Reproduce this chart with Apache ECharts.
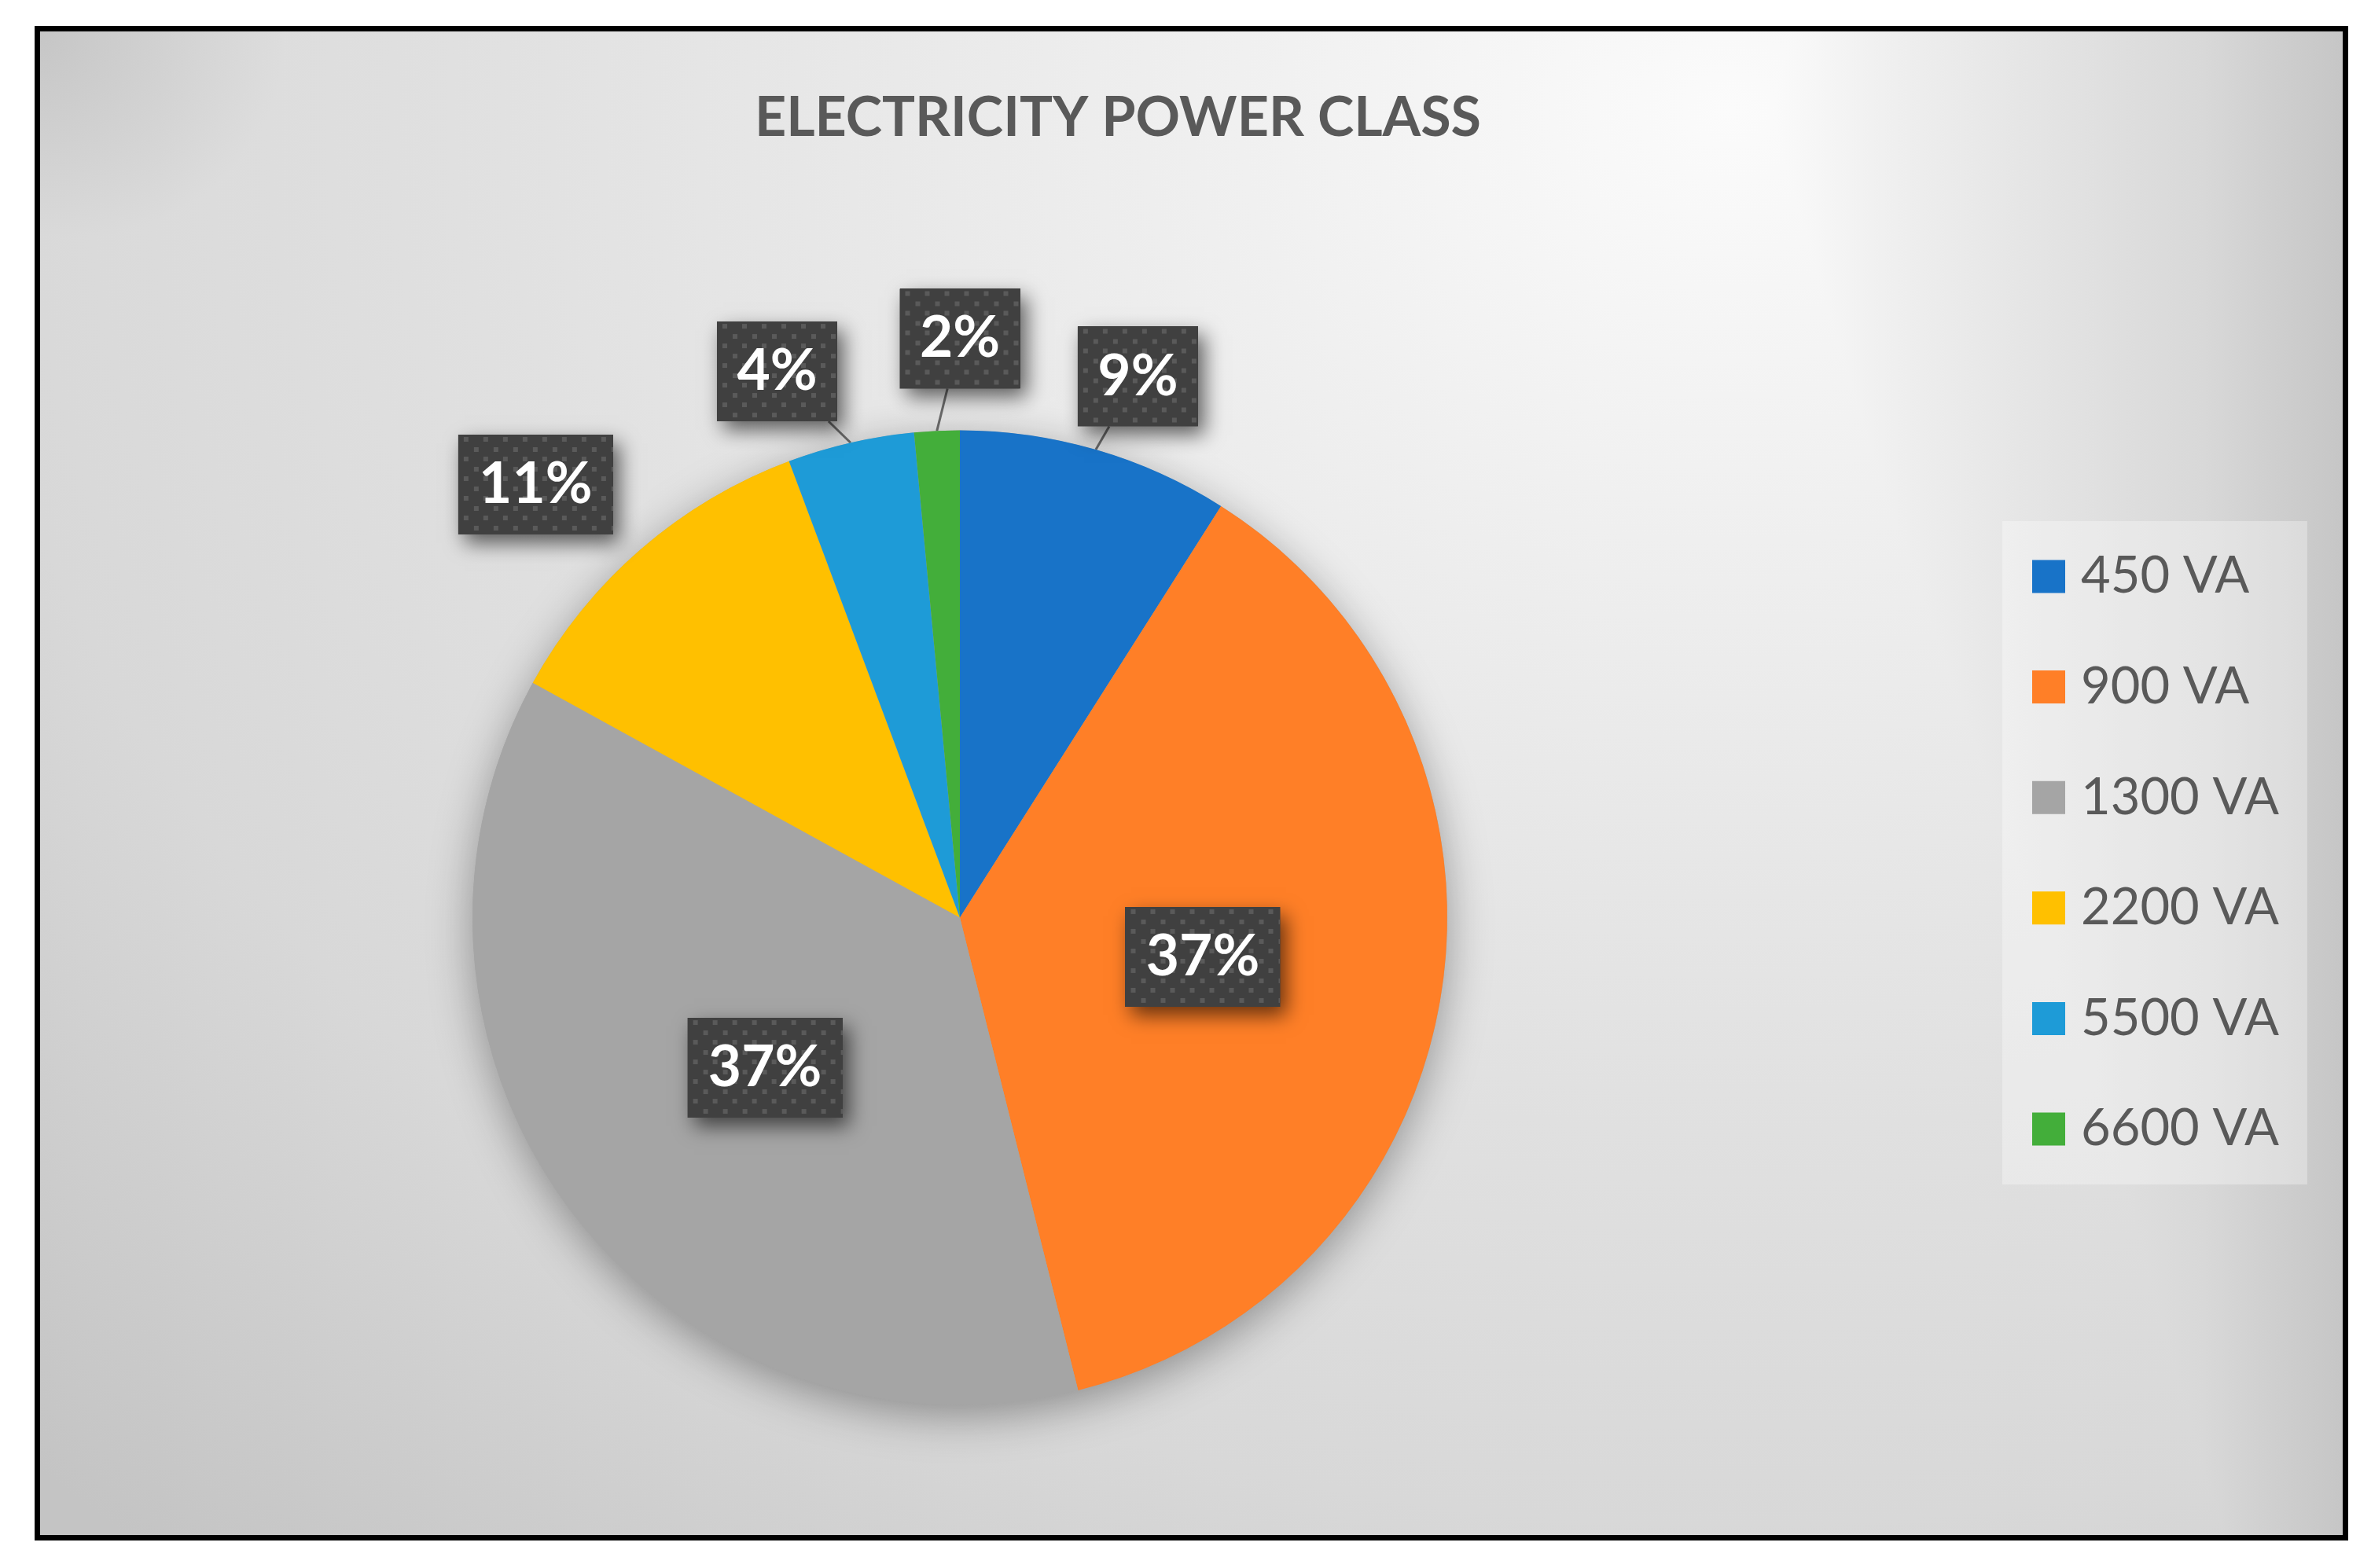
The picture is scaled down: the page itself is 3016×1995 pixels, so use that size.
<!DOCTYPE html>
<html>
<head>
<meta charset="utf-8">
<title>Electricity Power Class</title>
<script src="https://cdn.jsdelivr.net/npm/echarts@6/dist/echarts.min.js"></script>
<style>
    html, body { margin: 0; padding: 0; background: #fff; }
    #main {
        position: absolute; left: 44px; top: 33px;
        width: 2929px; height: 1913px;
        border: 7px solid #000;
        background-image:
            radial-gradient(circle 700px at 0 0, #c6c6c6 0%, #e0e0e0 50%, #ffffff 100%),
            linear-gradient(to right, #ffffff 73%, #f0f0f0 80%, #e4e4e4 87%, #d8d8d8 94%, #c6c6c6 100%),
            radial-gradient(ellipse 2500px 2000px at 2150px 100px, #fbfbfb 0%, #f0f0f0 25%, #e0e0e0 65%, #d8d8d8 90%, #c4c4c4 122%);
        background-blend-mode: darken;
    }
</style>
</head>
<body>
<div id="main"></div>
<script>
var categories = ['450 VA', '900 VA', '1300 VA', '2200 VA', '5500 VA', '6600 VA'];
var shares = [9.0, 37.1, 36.9, 11.3, 4.2, 1.5];
var sliceColors = ['#1873c8', '#ff7f27', '#a5a5a5', '#ffc000', '#1e9bd7', '#43ae3a'];

var pieCenter = [1170, 1127.5];
var pieRadius = 620;

// outside labels: compass angle (deg), distance in radii, leader line shown?
var outsideSpots = {
    '450 VA': [18.2, 1.169, true],
    '2200 VA': [315.6, 1.244, false],
    '5500 VA': [341.5, 1.182, true],
    '6600 VA': [0, 1.188, true]
};

var total = shares.reduce(function (a, b) { return a + b; }, 0);
var midAngles = [];
var acc = 0;
shares.forEach(function (v) {
    midAngles.push((acc + v / 2) / total * 360);
    acc += v;
});

// dark label box with the little dotted texture
function dotBox(w, h) {
    var c = document.createElement('canvas');
    c.width = w;
    c.height = h;
    var ctx = c.getContext('2d');
    ctx.fillStyle = '#404040';
    ctx.fillRect(0, 0, w, h);
    ctx.fillStyle = '#5a5a5a';
    for (var row = 0; row * 12.5 + 3 < h; row++) {
        var y = Math.round(3 + row * 12.5);
        for (var x = (row % 2 ? 19.5 : 7); x < w; x += 25) {
            ctx.fillRect(Math.round(x), y, 6, 6);
        }
    }
    return c;
}

var pieData = categories.map(function (name, i) {
    var text = Math.round(shares[i] / total * 100) + '%';
    var w = text.length > 2 ? 197 : 153;
    var spot = outsideSpots[name];
    return {
        name: name,
        value: shares[i],
        itemStyle: { color: sliceColors[i] },
        label: {
            position: spot ? 'outside' : 'inside',
            formatter: '{t|' + text + '}',
            rich: {
                t: {
                    width: w,
                    height: 127,
                    lineHeight: 127,
                    align: 'center',
                    color: '#fff',
                    fontFamily: 'Lato',
                    fontWeight: 'bold',
                    fontSize: 73,
                    backgroundColor: { image: dotBox(w, 127) }
                }
            }
        },
        labelLine: { show: !!(spot && spot[2]) }
    };
});

var myChart = echarts.init(document.getElementById('main'));

var option = {
    animation: false,
    title: {
        text: 'ELECTRICITY POWER CLASS',
        left: 1371,
        top: 75,
        padding: 0,
        textAlign: 'center',
        textVerticalAlign: 'top',
        textStyle: {
            fontFamily: 'Lato',
            fontWeight: 'bold',
            fontSize: 70,
            lineHeight: 70,
            color: '#595959'
        }
    },
    legend: {
        data: categories,
        orient: 'vertical',
        left: 2496,
        top: 623,
        padding: [38, 36, 38, 38],
        backgroundColor: 'rgba(255,255,255,0.32)',
        itemWidth: 42,
        itemHeight: 42,
        itemGap: 75.6,
        icon: 'rect',
        selectedMode: false,
        textStyle: {
            fontFamily: 'Lato',
            fontSize: 65,
            lineHeight: 65,
            color: '#595959',
            padding: [0, 0, 0, 15]
        }
    },
    series: [
        {
            // soft shadow under the whole pie
            type: 'pie',
            silent: true,
            center: pieCenter,
            radius: pieRadius,
            data: [{ name: '', value: 1 }],
            label: { show: false },
            labelLine: { show: false },
            emphasis: { disabled: true },
            itemStyle: {
                color: '#a5a5a5',
                borderWidth: 0,
                shadowBlur: 55,
                shadowColor: 'rgba(0,0,0,0.35)',
                shadowOffsetY: 14
            }
        },
        {
            name: 'Power class',
            type: 'pie',
            center: pieCenter,
            radius: pieRadius,
            startAngle: 90,
            clockwise: true,
            avoidLabelOverlap: false,
            emphasis: { disabled: true },
            itemStyle: { borderWidth: 0 },
            label: {
                color: '#fff',
                fontFamily: 'Lato',
                fontWeight: 'bold',
                fontSize: 73,
                align: 'center',
                padding: 0,
                backgroundColor: '#404040',
                shadowBlur: 24,
                shadowColor: 'rgba(0,0,0,0.6)',
                shadowOffsetX: 8,
                shadowOffsetY: 11
            },
            labelLine: {
                length: 20,
                length2: 0,
                lineStyle: { color: '#6e6e6e', width: 3 }
            },
            labelLayout: function (p) {
                var spot = outsideSpots[categories[p.dataIndex]];
                if (!spot) {
                    return {};
                }
                var a = spot[0] * Math.PI / 180;
                var d = spot[1] * pieRadius;
                var cx = pieCenter[0] + d * Math.sin(a);
                var cy = pieCenter[1] - d * Math.cos(a);
                var m = midAngles[p.dataIndex] * Math.PI / 180;
                var ax = pieCenter[0] + pieRadius * Math.sin(m);
                var ay = pieCenter[1] - pieRadius * Math.cos(m);
                var hw = p.labelRect.width / 2;
                var hh = p.labelRect.height / 2;
                var dx = ax - cx;
                var dy = ay - cy;
                var s = Math.min(hw / Math.max(Math.abs(dx), 1e-6), hh / Math.max(Math.abs(dy), 1e-6));
                return {
                    x: cx,
                    y: cy,
                    align: 'center',
                    verticalAlign: 'middle',
                    labelLinePoints: [[ax, ay], [cx + dx * s, cy + dy * s]]
                };
            },
            data: pieData
        }
    ]
};

myChart.setOption(option);
</script>
</body>
</html>
